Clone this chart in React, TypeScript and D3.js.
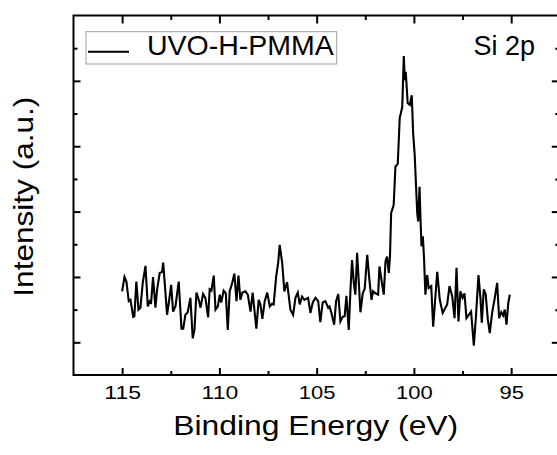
import { useEffect, useRef } from "react";
import * as d3 from "d3";

// Si 2p spectrum (binding energy in eV, intensity in arbitrary counts)
const energy = [
  115.0, 114.88, 114.78, 114.66, 114.57, 114.43, 114.37, 114.27, 114.16, 114.06,
  113.94, 113.8, 113.68, 113.58, 113.51, 113.41, 113.29, 113.2, 113.07, 112.94,
  112.89, 112.81, 112.69, 112.58, 112.48, 112.38, 112.26, 112.09, 111.95, 111.86,
  111.75, 111.63, 111.49, 111.37, 111.28, 111.18, 111.06, 110.97, 110.84, 110.72,
  110.58, 110.5, 110.41, 110.29, 110.2, 110.08, 109.98, 109.91, 109.78, 109.67,
  109.57, 109.47, 109.34, 109.23, 109.12, 109.02, 108.92, 108.82, 108.66, 108.54,
  108.4, 108.29, 108.1, 107.98, 107.89, 107.79, 107.67, 107.54, 107.41, 107.29,
  107.21, 107.08, 106.98, 106.9, 106.77, 106.66, 106.52, 106.35, 106.21, 106.09,
  105.97, 105.87, 105.75, 105.63, 105.44, 105.32, 105.2, 105.06, 104.92, 104.81,
  104.69, 104.55, 104.41, 104.34, 104.24, 104.1, 104.0, 103.89, 103.78, 103.66,
  103.56, 103.47, 103.35, 103.26, 103.18, 103.09, 103.01, 102.92, 102.84, 102.75,
  102.63, 102.53, 102.4, 102.29, 102.18, 102.1, 101.98, 101.84, 101.77, 101.67,
  101.55, 101.46, 101.38, 101.29, 101.23, 101.17, 101.04, 100.95, 100.83, 100.73,
  100.6, 100.52, 100.47, 100.42, 100.32, 100.21, 100.11, 100.04, 99.96, 99.83,
  99.78, 99.71, 99.66, 99.61, 99.54, 99.48, 99.41, 99.32, 99.24, 99.11,
  99.01, 98.8, 98.67, 98.52, 98.38, 98.29, 98.17, 98.03, 97.91, 97.81,
  97.71, 97.61, 97.5, 97.4, 97.3, 97.18, 97.06, 96.92, 96.82, 96.68,
  96.58, 96.51, 96.41, 96.31, 96.2, 96.1, 95.98, 95.86, 95.72, 95.62,
  95.51, 95.41, 95.33, 95.24, 95.15, 95.07,
];

const intensity = [
  1780, 2000, 1930, 1630, 1650, 1390, 1400, 1930, 1500, 1530,
  1910, 2170, 1550, 1630, 1610, 2000, 1530, 1810, 2060, 2080,
  2220, 1910, 1420, 1650, 1880, 1470, 1550, 1930, 1210, 1210,
  1420, 1460, 1680, 1060, 1190, 1760, 1650, 1530, 1740, 1680,
  1380, 1810, 1790, 2020, 1500, 1550, 1730, 1610, 1790, 1750,
  1190, 1780, 1910, 2050, 1630, 2020, 1650, 1760, 1780, 1730,
  1470, 1760, 1210, 1650, 1580, 1360, 1630, 1760, 1550, 1590,
  1580, 2010, 2210, 2490, 2210, 1780, 1920, 1500, 1420, 1680,
  1760, 1580, 1700, 1650, 1680, 1450, 1610, 1680, 1630, 1310,
  1610, 1630, 1530, 1550, 1450, 1270, 1630, 1740, 1320, 1390,
  1400, 1710, 1190, 1810, 2260, 1910, 1730, 2370, 1960, 1460,
  1750, 1820, 2340, 1960, 1650, 1780, 1750, 1730, 2160, 1960,
  1730, 2240, 2310, 2060, 2320, 2980, 3100, 3690, 3730, 4430,
  4600, 5380, 5010, 5140, 4660, 4630, 4780, 4200, 3870, 2980,
  2850, 3380, 2870, 2470, 2620, 2290, 1730, 2030, 1830, 1860,
  1240, 2080, 1650, 1450, 1530, 1580, 1860, 1700, 1370, 2140,
  1320, 1780, 1680, 1750, 1370, 1420, 1470, 950, 1350, 2030,
  1680, 1300, 1810, 1730, 1350, 1140, 1450, 1650, 1910, 1370,
  1460, 1410, 1500, 1270, 1600, 1730,
];

const majorX = [115, 110, 105, 100, 95];
const minorX = [112.5, 107.5, 102.5, 97.5];
const majorY = [1000, 2000, 3000, 4000, 5000];
const minorY = [1500, 2500, 3500, 4500, 5500];

const seriesName = "UVO-H-PMMA";
const peakName = "Si 2p";
const xTitle = "Binding Energy (eV)";
const yTitle = "Intensity (a.u.)";

const font = "Arial, 'Liberation Sans', Helvetica, sans-serif";

function App() {
  const ref = useRef<SVGSVGElement>(null);

  useEffect(() => {
    const svg = d3.select(ref.current);
    svg.selectAll("*").remove();

    const x = d3.scaleLinear().domain([117.5, 92.5]).range([73.5, 559.8]);
    const y = d3.scaleLinear().domain([500, 6000]).range([375, 15.5]);
    const [x0, x1] = x.range();
    const [y0, y1] = y.range();

    const addAxis = (axis: any, transform: string) => {
      const g = svg.append("g").attr("transform", transform).call(axis);
      g.select(".domain").remove();
      g.selectAll("line").attr("stroke-width", 2);
      return g;
    };
    const noLabel = () => "";

    // bottom axis, major ticks with labels
    addAxis(
      d3.axisBottom(x).tickValues(majorX).tickSizeInner(-7).tickSizeOuter(0).tickPadding(11),
      `translate(0,${y0})`
    )
      .selectAll("text")
      .attr("font-family", font)
      .attr("font-size", 19)
      .attr("textLength", (d: any) => String(d).length * 12.2)
      .attr("lengthAdjust", "spacingAndGlyphs");
    addAxis(d3.axisBottom(x).tickValues(minorX).tickSizeInner(-4).tickSizeOuter(0).tickFormat(noLabel), `translate(0,${y0})`);

    // top axis
    addAxis(d3.axisTop(x).tickValues(majorX).tickSizeInner(-8).tickSizeOuter(0).tickFormat(noLabel), `translate(0,${y1})`);
    addAxis(d3.axisTop(x).tickValues(minorX).tickSizeInner(-4.5).tickSizeOuter(0).tickFormat(noLabel), `translate(0,${y1})`);

    // left + right axes, no labels
    addAxis(d3.axisLeft(y).tickValues(majorY).tickSizeInner(-7).tickSizeOuter(0).tickFormat(noLabel), `translate(${x0},0)`);
    addAxis(d3.axisLeft(y).tickValues(minorY).tickSizeInner(-4).tickSizeOuter(0).tickFormat(noLabel), `translate(${x0},0)`);
    addAxis(d3.axisRight(y).tickValues(majorY).tickSizeInner(-8).tickSizeOuter(0).tickFormat(noLabel), `translate(${x1},0)`);
    addAxis(d3.axisRight(y).tickValues(minorY).tickSizeInner(-4.5).tickSizeOuter(0).tickFormat(noLabel), `translate(${x1},0)`);

    svg.append("rect")
      .attr("x", x0)
      .attr("y", y1)
      .attr("width", x1 - x0)
      .attr("height", y0 - y1)
      .attr("fill", "none")
      .attr("stroke", "#000")
      .attr("stroke-width", 2);

    const line = d3.line<number>()
      .x((d, i) => x(energy[i]))
      .y((d) => y(d));

    svg.append("path")
      .datum(intensity)
      .attr("d", line)
      .attr("fill", "none")
      .attr("stroke", "#000")
      .attr("stroke-width", 2.1);

    // legend
    svg.append("rect")
      .attr("x", 86)
      .attr("y", 31.7)
      .attr("width", 250.7)
      .attr("height", 32.3)
      .attr("fill", "#fff")
      .attr("stroke", "#a0a0a0")
      .attr("stroke-width", 1);
    svg.append("line")
      .attr("x1", 88)
      .attr("x2", 129)
      .attr("y1", 51.7)
      .attr("y2", 51.7)
      .attr("stroke", "#000")
      .attr("stroke-width", 2);
    svg.append("text")
      .attr("x", 147)
      .attr("y", 55)
      .attr("font-family", font)
      .attr("font-size", 28.5)
      .text(seriesName);

    svg.append("text")
      .attr("x", 535)
      .attr("y", 55)
      .attr("text-anchor", "end")
      .attr("font-family", font)
      .attr("font-size", 27)
      .text(peakName);

    // axis titles
    svg.append("text")
      .attr("x", 315.7)
      .attr("y", 435)
      .attr("text-anchor", "middle")
      .attr("font-family", font)
      .attr("font-size", 28)
      .attr("textLength", 285)
      .attr("lengthAdjust", "spacingAndGlyphs")
      .text(xTitle);

    svg.append("text")
      .attr("transform", "translate(33.3,196.7) rotate(-90)")
      .attr("text-anchor", "middle")
      .attr("font-family", font)
      .attr("font-size", 28)
      .attr("textLength", 200)
      .attr("lengthAdjust", "spacingAndGlyphs")
      .text(yTitle);
  }, []);

  return (
    <svg
      ref={ref}
      width={557}
      height={455}
      style={{ position: "absolute", left: 0, top: 0, background: "#fff" }}
    />
  );
}

export default App;
